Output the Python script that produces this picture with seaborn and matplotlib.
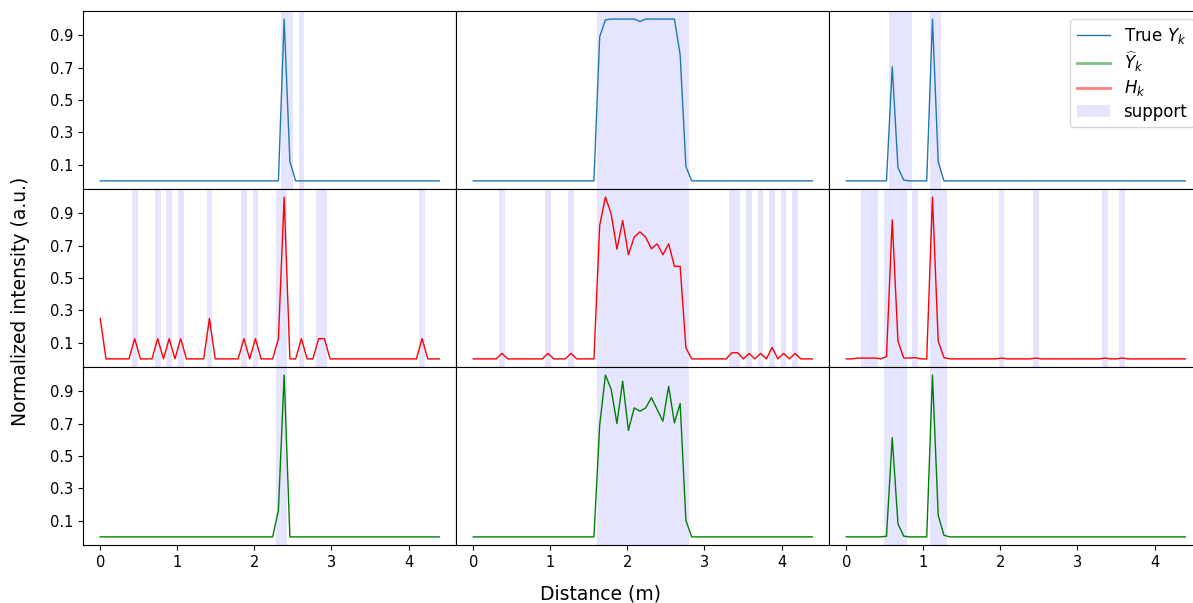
import numpy as np
import matplotlib
matplotlib.use("Agg")
import matplotlib.pyplot as plt
from matplotlib.lines import Line2D
from matplotlib.patches import Patch
import seaborn as sns

# sampling grid along the distance axis
distance = np.linspace(0, 4.4, 60)
step = distance[1] - distance[0]

# non-zero samples only (index -> value), everything else sits at 0
true_y_left = {32: 1.0, 33: 0.12}
true_y_mid = {22: 0.89, 23: 0.995, 24: 1.0, 25: 1.0, 26: 1.0, 27: 1.0, 28: 1.0,
              29: 0.985, 30: 1.0, 31: 1.0, 32: 1.0, 33: 1.0, 34: 1.0, 35: 1.0,
              36: 0.78, 37: 0.09}
true_y_right = {8: 0.705, 9: 0.083, 10: 0.005, 15: 1.0, 16: 0.117}

h_left = {0: 0.25, 6: 0.125, 10: 0.125, 12: 0.125, 14: 0.125, 19: 0.25,
          25: 0.125, 27: 0.125, 31: 0.125, 32: 1.0, 35: 0.125, 38: 0.125,
          39: 0.125, 56: 0.125}
h_mid = {5: 0.034, 13: 0.034, 17: 0.034, 22: 0.824, 23: 1.0, 24: 0.896,
         25: 0.678, 26: 0.855, 27: 0.644, 28: 0.752, 29: 0.785, 30: 0.752,
         31: 0.68, 32: 0.711, 33: 0.644, 34: 0.711, 35: 0.572, 36: 0.572,
         37: 0.069, 45: 0.038, 46: 0.038, 48: 0.034, 50: 0.034, 52: 0.071,
         54: 0.034, 56: 0.034}
h_right = {2: 0.005, 3: 0.005, 4: 0.005, 5: 0.005, 7: 0.014, 8: 0.859,
           9: 0.11, 10: 0.005, 11: 0.005, 12: 0.008, 15: 1.0, 16: 0.11,
           17: 0.008, 27: 0.005, 33: 0.005, 45: 0.005, 48: 0.005}

yhat_left = {31: 0.163, 32: 1.0}
yhat_mid = {22: 0.69, 23: 1.0, 24: 0.912, 25: 0.70, 26: 0.962, 27: 0.658,
            28: 0.797, 29: 0.777, 30: 0.797, 31: 0.861, 32: 0.787, 33: 0.715,
            34: 0.931, 35: 0.705, 36: 0.824, 37: 0.102}
yhat_right = {7: 0.004, 8: 0.613, 9: 0.08, 10: 0.005, 15: 1.0, 16: 0.133,
              17: 0.01}

# support indices per panel
support_true = [[32, 33, 35],
                list(range(22, 38)),
                [8, 9, 10, 11, 15, 16]]
support_h = [[6, 10, 12, 14, 19, 25, 27, 31, 32, 35, 38, 39, 56],
             [5, 13, 17] + list(range(22, 38)) + [45, 46, 48, 50, 52, 54, 56],
             [3, 4, 5, 7, 8, 9, 10, 12, 15, 16, 17, 27, 33, 45, 48]]
support_yhat = [[31, 32],
                list(range(22, 38)),
                [7, 8, 9, 10, 15, 16, 17]]

rows = [
    ([true_y_left, true_y_mid, true_y_right], support_true, "#1f77b4"),
    ([h_left, h_mid, h_right], support_h, "red"),
    ([yhat_left, yhat_mid, yhat_right], support_yhat, "green"),
]


def to_series(points):
    vals = np.zeros(len(distance))
    for i, v in points.items():
        vals[i] = v
    return vals


fig = plt.figure(figsize=(11.93, 6.03), dpi=100)
axes = fig.subplots(3, 3, sharex=True, sharey=True)
fig.subplots_adjust(left=0.0698, right=1.0078, top=0.9818, bottom=0.0962,
                    wspace=0, hspace=0)

for r, (panels, supports, color) in enumerate(rows):
    for c in range(3):
        ax = axes[r, c]
        for i in supports[c]:
            ax.axvspan(distance[i] - step / 2, distance[i] + step / 2,
                       color="blue", alpha=0.1, lw=0)
        sns.lineplot(x=distance, y=to_series(panels[c]), ax=ax, color=color,
                     linewidth=1, legend=False)
        ax.set_xlim(-0.22, 4.62)
        ax.set_ylim(-0.05, 1.05)
        ax.set_xticks([0, 1, 2, 3, 4])
        ax.set_yticks([0.1, 0.3, 0.5, 0.7, 0.9])
        ax.tick_params(labelsize=10.5, left=(c == 0), bottom=(r == 2))
        ax.set_xlabel("")
        ax.set_ylabel("")

handles = [
    Line2D([], [], color="#1f77b4", lw=1),
    Line2D([], [], color="green", lw=2, alpha=0.5),
    Line2D([], [], color="red", lw=2, alpha=0.5),
    Patch(facecolor="blue", alpha=0.1),
]
labels = ["True $Y_k$", r"$\widehat{Y}_k$", "$H_k$", "support"]
axes[0, 2].legend(handles, labels, loc="upper right", fontsize=12,
                  labelspacing=0.25)

fig.text(0.503, 0.015, "Distance (m)", ha="center", va="center", fontsize=13.5)
fig.text(0.017, 0.5, "Normalized intensity (a.u.)", ha="center", va="center",
         rotation=90, fontsize=13.5)

fig.savefig("out.png", dpi=100)
